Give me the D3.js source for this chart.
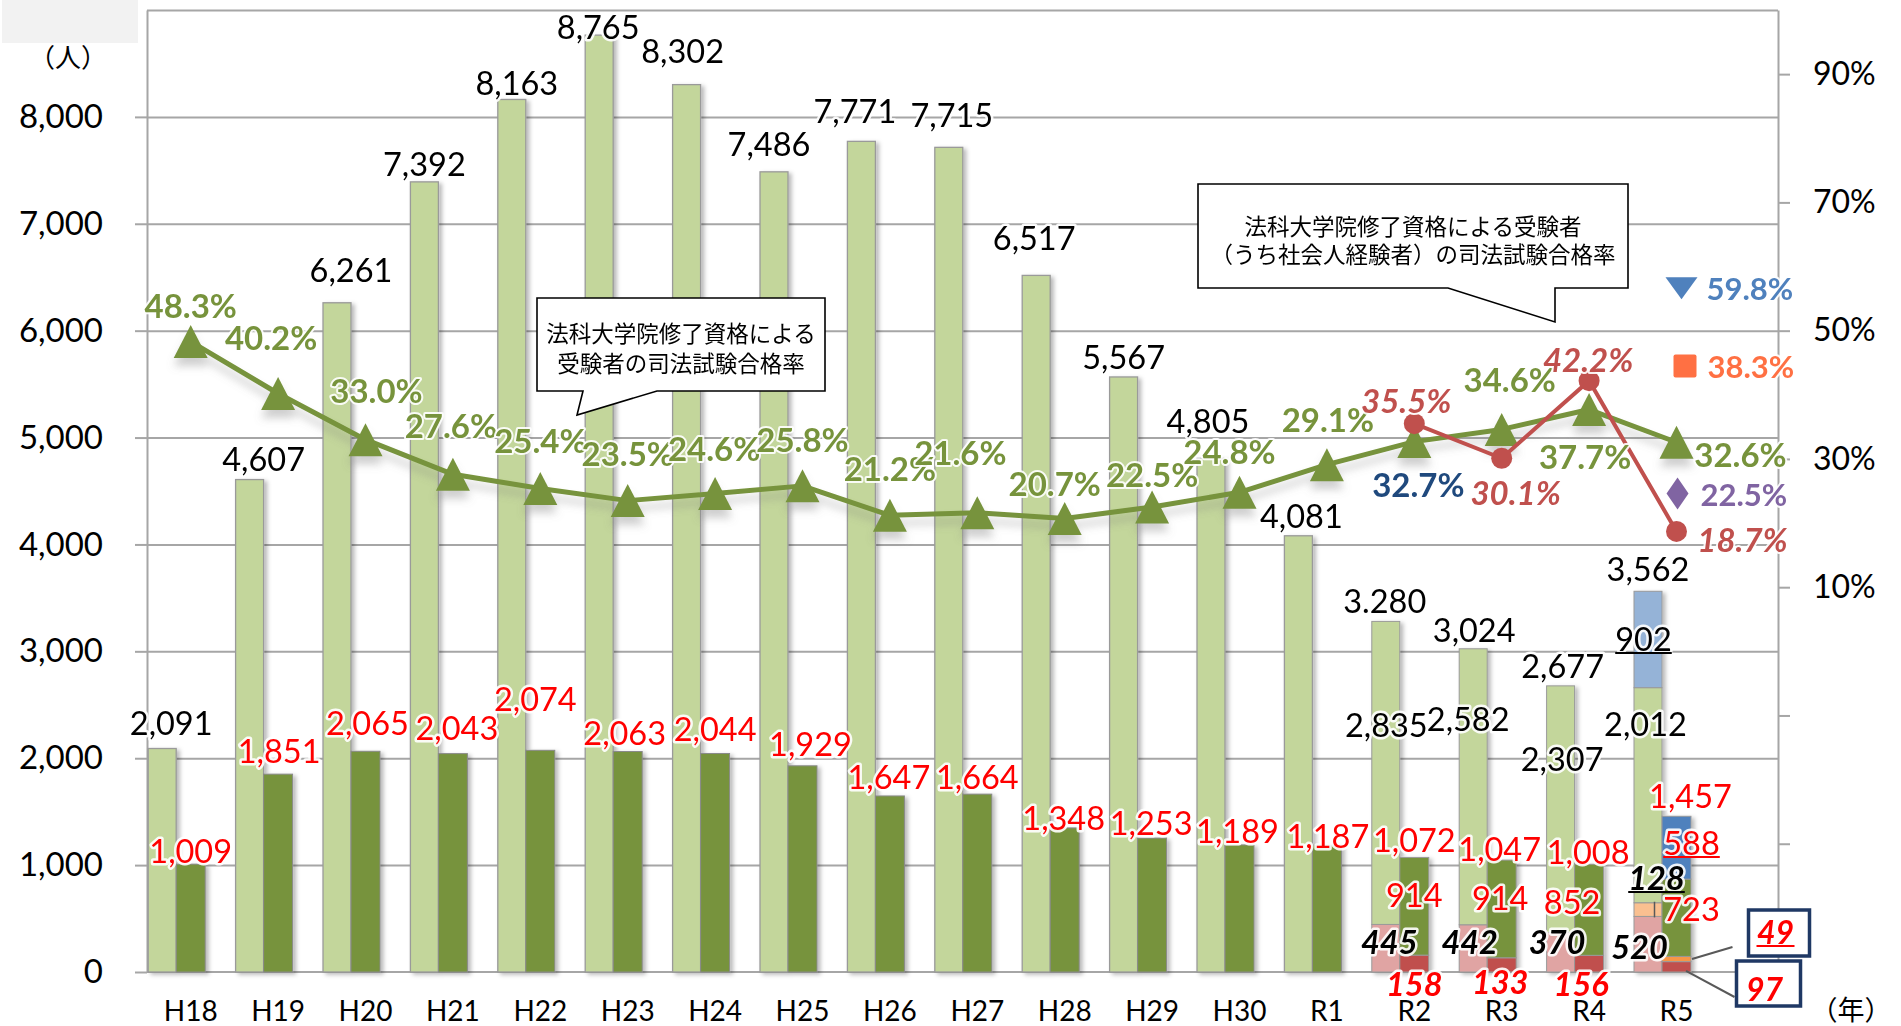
<!DOCTYPE html>
<html><head><meta charset="utf-8">
<script src="https://cdn.jsdelivr.net/npm/d3@7"></script>
<style>
body{margin:0;background:#fff;}
svg text{font-family:Lato,"Noto Sans CJK JP",sans-serif;}
.jp{font-family:"Noto Sans CJK JP",sans-serif;}
</style></head><body>
<svg id="c" width="1901" height="1026"></svg>
<script>
// ---------------- DATA ----------------
const categories = ["H18","H19","H20","H21","H22","H23","H24","H25","H26","H27","H28","H29","H30","R1","R2","R3","R4","R5"];
const applicants = [2091,4607,6261,7392,8163,8765,8302,7486,7771,7715,6517,5567,4805,4081,3280,3024,2677,3562];
const applicantLabels = ["2,091","4,607","6,261","7,392","8,163","8,765","8,302","7,486","7,771","7,715","6,517","5,567","4,805","4,081","3.280","3,024","2,677","3,562"];
const passers = [1009,1851,2065,2043,2074,2063,2044,1929,1647,1664,1348,1253,1189,1187,1072,1047,1008,1457];
const passRate = [48.3,40.2,33.0,27.6,25.4,23.5,24.6,25.8,21.2,21.6,20.7,22.5,24.8,29.1,32.7,34.6,37.7,32.6];
const workerCats = ["R2","R3","R4","R5"];
const workerRate = [35.5,30.1,42.2,18.7];
// breakdown of R2-R5 bars
const applWorker = [445,442,370,520];
const applOrange = [0,0,0,128];
const applOther  = [2835,2582,2307,2012];
const applBlue   = [0,0,0,902];
const passWorker = [158,133,156,97];
const passOrange = [0,0,0,49];
const passOther  = [914,914,852,723];
const passBlue   = [0,0,0,588];
// R5 extra rates (annotation markers)
const r5RateLabels = ["59.8%","38.3%","22.5%"];
const leftTicks = [0,1000,2000,3000,4000,5000,6000,7000,8000];
const rightTicks = [-50,-30,-10,10,30,50,70,90];

// ---------------- LAYOUT ----------------
const svg = d3.select("#c");
const PL = 147, PR = 1778, PB = 972, PT = 10;
const x = d3.scaleBand().domain(categories).range([PL, PL + 18*87.4]);
const cx = c => x(c) + x.bandwidth()/2;
const yL = d3.scaleLinear().domain([0,9000]).range([PB,PT]);
const yR = d3.scaleLinear().domain([-50,100]).range([PB,PT]);

// label offsets (px) — layout only
const ldx = [9,14,14,0,5,-1,-4,-5,-6.5,3,-2,0,-3,3,-1,1,2,0];
const ldy = [-26,-21,-33.6,-18,-17,-8.4,-33.7,-28.8,-31,-33.3,-37.8,-20.5,-37.7,-20.5,-21.3,-19.6,-20.3,-22.7];
const ddx = [0,1,2,4,-5,-3,0,8,-1,0,-1,-1,-2,1,0,-2,-1,14];
const ddy = [-14,-23.6,-28.7,-26.2,-52,-19.2,-25,-22.6,-19,-18,-10.7,-16,-14.4,-9.8,-18.4,-11.4,-13.2,-21];
const gdx = [0,-7,11,-2,0,0,-1,0,0,-17,-10,0,-10,1,4,8,-4,64];
const gdy = [-37,-57,-50,-49,-48,-48,-46,-47,-47,-61,-36,-33,-41,-46,42,-50,46,12];
const rdx = [-8,14,-1,66];
const rdy = [-24,34,-22,8];

const defs = svg.append("defs");
const bs = defs.append("filter").attr("id","barShadow").attr("x","-30%").attr("y","-5%").attr("width","160%").attr("height","115%");
bs.append("feDropShadow").attr("dx",3).attr("dy",2).attr("stdDeviation",2).attr("flood-color","#000").attr("flood-opacity",0.28);
const ls = defs.append("filter").attr("id","lineShadow").attr("x","-5%").attr("y","-30%").attr("width","110%").attr("height","180%");
ls.append("feDropShadow").attr("dx",0).attr("dy",8).attr("stdDeviation",4).attr("flood-color","#777").attr("flood-opacity",0.35);

// top-left grey box + unit
svg.append("rect").attr("x",2).attr("y",0).attr("width",136).attr("height",43).attr("fill","#F2F2F2");
svg.append("text").attr("class","jp").attr("x",68).attr("y",55).attr("text-anchor","middle").attr("dominant-baseline","central").attr("font-size",26).attr("fill","#000").text("（人）");

// gridlines
svg.append("g").attr("transform",`translate(${PL},0)`)
  .call(d3.axisLeft(yL).tickValues(d3.range(1000,9001,1000)).tickSize(-(PR-PL)).tickFormat(""))
  .call(g=>g.select(".domain").remove())
  .call(g=>g.selectAll("line").attr("stroke","#A6A6A6").attr("stroke-width",2));

// left axis
svg.append("g").attr("transform",`translate(${PL},0)`)
  .call(d3.axisLeft(yL).tickValues(leftTicks).tickSize(12).tickSizeOuter(0).tickPadding(32).tickFormat(d3.format(",")))
  .call(g=>g.selectAll("line,path").attr("stroke","#A6A6A6").attr("stroke-width",2))
  .call(g=>g.selectAll("text").attr("font-size",33).attr("fill","#000").attr("font-family","Lato"));

// right axis
svg.append("g").attr("transform",`translate(${PR},0)`)
  .call(d3.axisRight(yR).tickValues(rightTicks).tickSize(12).tickSizeOuter(0).tickPadding(23).tickFormat(d=>d>0?d+"%":""))
  .call(g=>g.selectAll("line,path").attr("stroke","#A6A6A6").attr("stroke-width",2))
  .call(g=>g.selectAll("text").attr("font-size",32).attr("fill","#000").attr("font-family","Lato"));

// category labels
svg.append("g").attr("transform",`translate(0,${PB})`)
  .call(d3.axisBottom(x).tickSize(0).tickPadding(41))
  .call(g=>g.select(".domain").attr("stroke","#A6A6A6").attr("stroke-width",2).attr("d",`M${PL},0H${PR}`))
  .call(g=>g.selectAll("text").attr("font-size",28).attr("fill","#000").attr("font-family","Lato").attr("dy","0.3em"));
svg.append("text").attr("class","jp").attr("x",1851).attr("y",1008).attr("text-anchor","middle").attr("dominant-baseline","central").attr("font-size",27).attr("fill","#000").text("（年）");

// ---------------- BARS ----------------
const gB = svg.append("g").attr("filter","url(#barShadow)");
const bx = {light:c=>cx(c)-42.5, dark:c=>cx(c)-14.5};
const simple = categories.map((c,i)=>({c,i})).filter(d=>!workerCats.includes(d.c));
gB.selectAll(".lb").data(simple).join("rect")
  .attr("x",d=>bx.light(d.c)).attr("width",28)
  .attr("y",d=>yL(applicants[d.i])).attr("height",d=>yL(0)-yL(applicants[d.i]))
  .attr("fill","#C3D69B").attr("stroke","#9A9A9A").attr("stroke-width",1.3);
gB.selectAll(".db").data(simple).join("rect")
  .attr("x",d=>bx.dark(d.c)).attr("width",29)
  .attr("y",d=>yL(passers[d.i])).attr("height",d=>yL(0)-yL(passers[d.i]))
  .attr("fill","#77933C").attr("stroke","#8A8A8A").attr("stroke-width",1);

const keys = ["worker","orange","other","blue"];
const applRows = workerCats.map((c,i)=>({c,worker:applWorker[i],orange:applOrange[i],other:applOther[i],blue:applBlue[i]}));
const passRows = workerCats.map((c,i)=>({c,worker:passWorker[i],orange:passOrange[i],other:passOther[i],blue:passBlue[i]}));
const applCol = {worker:"#E0A4A3",orange:"#FAC090",other:"#C3D69B",blue:"#95B3D7"};
const passCol = {worker:"#C0504D",orange:"#F79646",other:"#77933C",blue:"#4F81BD"};
function drawStack(rows,cols,xf,w){
  d3.stack().keys(keys)(rows).forEach(s=>{
    gB.selectAll(null).data(s.filter(d=>d[1]>d[0])).join("rect")
      .attr("x",d=>xf(d.data.c)).attr("width",w)
      .attr("y",d=>yL(d[1])).attr("height",d=>yL(d[0])-yL(d[1]))
      .attr("fill",cols[s.key]).attr("stroke","#9A9A9A").attr("stroke-width",1);
  });
}
drawStack(applRows,applCol,bx.light,28);
drawStack(passRows,passCol,bx.dark,29);

// ---------------- LINES ----------------
const gL = svg.append("g").attr("filter","url(#lineShadow)");
const lineG = d3.line().x((d,i)=>cx(categories[i])).y(d=>yR(d));
gL.append("path").attr("d",lineG(passRate)).attr("fill","none").attr("stroke","#77933C").attr("stroke-width",5).attr("stroke-linejoin","round");
const tri = "M0,-16.5L17,16.5L-17,16.5Z";
gL.selectAll(".tri").data(passRate).join("path")
  .attr("d",tri).attr("transform",(d,i)=>`translate(${cx(categories[i])},${yR(d)})`).attr("fill","#77933C");

const gR = svg.append("g");
const lineR = d3.line().x((d,i)=>cx(workerCats[i])).y(d=>yR(d));
gR.append("path").attr("d",lineR(workerRate)).attr("fill","none").attr("stroke","#C0504D").attr("stroke-width",4);
gR.selectAll("circle").data(workerRate).join("circle")
  .attr("cx",(d,i)=>cx(workerCats[i])).attr("cy",d=>yR(d)).attr("r",10.5).attr("fill","#C0504D");

// ---------------- LABELS ----------------
function glow(sel,w=5){ return sel.attr("stroke","#fff").attr("stroke-width",w).attr("stroke-linejoin","round").attr("paint-order","stroke").attr("stroke-opacity",0.9); }
const gT = svg.append("g").attr("dominant-baseline","central").attr("text-anchor","middle");

gT.selectAll(".al").data(applicantLabels).join("text")
  .attr("x",(d,i)=>bx.light(categories[i])+14+ldx[i]).attr("y",(d,i)=>yL(applicants[i])+ldy[i])
  .attr("font-size",32.5).attr("fill","#000").text(d=>d).call(glow);

gT.selectAll(".pl").data(passers).join("text")
  .attr("x",(d,i)=>cx(categories[i])+ddx[i]).attr("y",(d,i)=>yL(d)+ddy[i])
  .attr("font-size",32.5).attr("fill","#FF0000").text(d=>d3.format(",")(d)).call(glow);

gT.selectAll(".gl").data(passRate).join("text")
  .attr("x",(d,i)=>cx(categories[i])+gdx[i]).attr("y",(d,i)=>yR(d)+gdy[i])
  .attr("font-size",33).attr("font-weight","bold")
  .attr("fill",(d,i)=>categories[i]==="R2"?"#1F497D":"#77933C")
  .text(d=>d.toFixed(1)+"%").call(glow,4);

gT.selectAll(".rl").data(workerRate).join("text")
  .attr("x",(d,i)=>cx(workerCats[i])+rdx[i]).attr("y",(d,i)=>yR(d)+rdy[i])
  .attr("font-size",33).attr("font-weight","bold").attr("font-style","italic").attr("fill","#C0504D")
  .text(d=>d.toFixed(1)+"%").call(glow,4);

// breakdown labels in R2-R5 (positions are layout)
function segLabel(cat,txt,dx,y,opt={}){
  const t = gT.append("text").attr("x",cx(cat)+dx).attr("y",y).attr("font-size",32.5)
    .attr("fill",opt.fill||"#000").attr("font-weight",opt.bold?"bold":null).attr("font-style",opt.italic?"italic":null)
    .text(txt).call(glow,opt.glow||5);
  if(opt.underline){
    const b = t.node().getBBox();
    gT.append("line").attr("x1",b.x).attr("x2",b.x+b.width).attr("y1",y+15).attr("y2",y+15)
      .attr("stroke",opt.fill||"#000").attr("stroke-width",1.8);
  }
  return t;
}
const fmt = d3.format(",");
const otherDx = [-28,-33.5,-27,-31], otherY = [724,718,758,723];
workerCats.forEach((c,i)=>segLabel(c,fmt(applOther[i]),otherDx[i],otherY[i]));
const pOtherDx = [0,-1.5,-17,15], pOtherY=[894,897,901,908];
workerCats.forEach((c,i)=>segLabel(c,fmt(passOther[i]),pOtherDx[i],pOtherY[i],{fill:"#FF0000"}));
const wDx=[-25,-32,-32,-37], wY=[941,941,941,946];
workerCats.forEach((c,i)=>segLabel(c,fmt(applWorker[i]),wDx[i],wY[i],{bold:true,italic:true}));
const pwDx=[0,-1.5,-8], pwY=[983,981,983];
workerCats.slice(0,3).forEach((c,i)=>segLabel(c,fmt(passWorker[i]),pwDx[i],pwY[i],{bold:true,italic:true,fill:"#FF0000"}));
segLabel("R5",fmt(applBlue[3]),-33,638,{underline:true});
segLabel("R5",fmt(passBlue[3]),15,842,{underline:true,fill:"#FF0000"});
segLabel("R5",fmt(applOrange[3]),-20,877,{underline:true,bold:true,italic:true});
// small leader in orange segment
gT.append("line").attr("x1",cx("R5")-22).attr("x2",cx("R5")-22).attr("y1",yL(applWorker[3]+applOrange[3])-1).attr("y2",yL(applWorker[3])+1).attr("stroke","#595959").attr("stroke-width",1.5);

// boxed labels 49 and 97
const gBox = svg.append("g");
const r5x = cx("R5");
gBox.append("line").attr("x1",bx.dark("R5")+30).attr("y1",yL(passWorker[3]+passOrange[3]/2)).attr("x2",r5x+56).attr("y2",947).attr("stroke","#595959").attr("stroke-width",2);
gBox.append("line").attr("x1",bx.dark("R5")+24).attr("y1",yL(passWorker[3]/2)+4).attr("x2",r5x+58).attr("y2",997).attr("stroke","#595959").attr("stroke-width",2);
gBox.append("rect").attr("x",r5x+72).attr("y",910).attr("width",61).attr("height",46).attr("fill","#fff").attr("stroke","#1F3864").attr("stroke-width",3.5);
gBox.append("rect").attr("x",r5x+60).attr("y",961).attr("width",64).attr("height",45).attr("fill","#fff").attr("stroke","#1F3864").attr("stroke-width",3.5);
gBox.append("text").attr("x",r5x+99).attr("y",931).attr("text-anchor","middle").attr("dominant-baseline","central")
  .attr("font-size",32).attr("font-weight","bold").attr("font-style","italic").attr("fill","#FF0000").text(fmt(passOrange[3]));
gBox.append("line").attr("x1",r5x+80).attr("x2",r5x+118).attr("y1",946).attr("y2",946).attr("stroke","#FF0000").attr("stroke-width",1.8);
gBox.append("text").attr("x",r5x+88).attr("y",988).attr("text-anchor","middle").attr("dominant-baseline","central")
  .attr("font-size",32).attr("font-weight","bold").attr("font-style","italic").attr("fill","#FF0000").text(fmt(passWorker[3]));

// R5 extra rate markers (annotation)
const markY = [56.6, 44.5, 24.6];
const gM = svg.append("g");
gM.append("path").attr("d","M-16,-11L16,-11L0,11Z").attr("transform",`translate(${r5x+5},${yR(markY[0])})`).attr("fill","#4F81BD");
gM.append("rect").attr("x",r5x-3).attr("y",yR(markY[1])-11.5).attr("width",23).attr("height",23).attr("rx",2).attr("fill","#FF7043");
gM.append("path").attr("d","M0,-16L11,0L0,16L-11,0Z").attr("transform",`translate(${r5x+1},${yR(markY[2])})`).attr("fill","#8064A2");
const mCols = ["#4F81BD","#FF7043","#8064A2"], mDx=[30,31,24];
gM.selectAll("text").data(r5RateLabels).join("text")
  .attr("x",(d,i)=>r5x+mDx[i]).attr("y",(d,i)=>yR(markY[i])).attr("dominant-baseline","central")
  .attr("font-size",31).attr("font-weight","bold").attr("fill",(d,i)=>mCols[i]).text(d=>d).call(glow,4);

// ---------------- CALLOUTS ----------------
const gC = svg.append("g");
gC.append("path").attr("d","M537,298H825V391H657L577,415L583,391H537Z").attr("fill","#fff").attr("stroke","#000").attr("stroke-width",1.6);
gC.append("text").attr("class","jp").attr("x",681).attr("y",332).attr("text-anchor","middle").attr("dominant-baseline","central").attr("font-size",22.5).attr("fill","#000").text("法科大学院修了資格による");
gC.append("text").attr("class","jp").attr("x",681).attr("y",362).attr("text-anchor","middle").attr("dominant-baseline","central").attr("font-size",22.5).attr("fill","#000").text("受験者の司法試験合格率");
gC.append("path").attr("d","M1198,184H1628V288H1555V322L1448,288H1198Z").attr("fill","#fff").attr("stroke","#000").attr("stroke-width",1.6);
gC.append("text").attr("class","jp").attr("x",1413).attr("y",225).attr("text-anchor","middle").attr("dominant-baseline","central").attr("font-size",22.5).attr("fill","#000").text("法科大学院修了資格による受験者");
gC.append("text").attr("class","jp").attr("x",1413).attr("y",253).attr("text-anchor","middle").attr("dominant-baseline","central").attr("font-size",22.5).attr("fill","#000").text("（うち社会人経験者）の司法試験合格率");
</script>
</body></html>
